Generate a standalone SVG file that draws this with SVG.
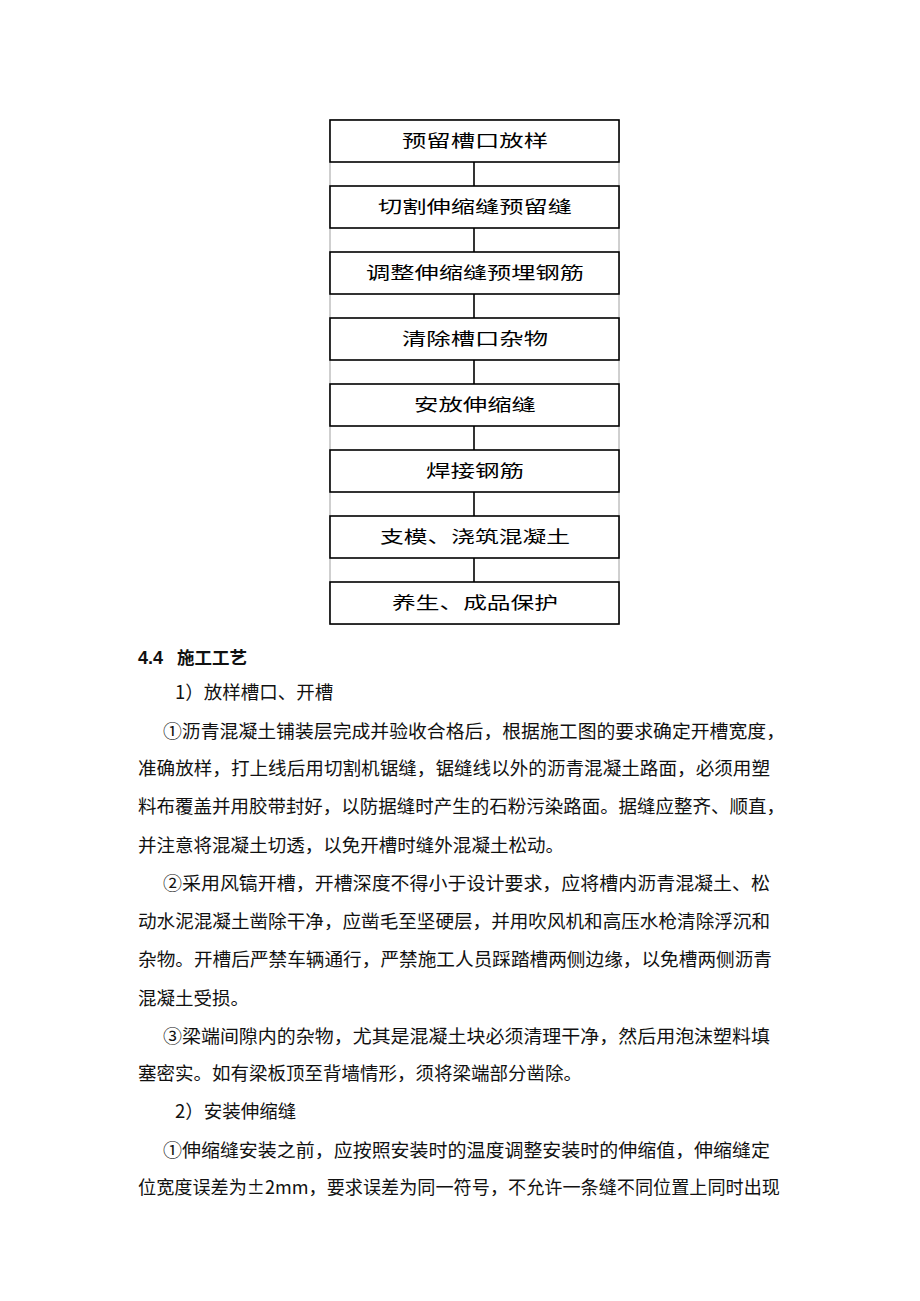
<svg xmlns="http://www.w3.org/2000/svg" width="920" height="1301" viewBox="0 0 920 1301">
<style>
.frame{fill:none;stroke:#a0a0a0;stroke-width:1}
.box{fill:#fff;stroke:#000;stroke-width:1.6}
.conn{stroke:#000;stroke-width:1.6}
.lbl{font-family:"Noto Sans CJK SC","Liberation Sans",sans-serif;font-size:17px;fill:#000;text-anchor:middle}
.body{font-family:"Noto Sans CJK SC","Liberation Sans",sans-serif;font-size:18.5px;fill:#111}
.head{font-family:"Liberation Sans","Noto Sans CJK SC",sans-serif;font-size:18px;font-weight:bold;fill:#111}
</style>
<rect width="920" height="1301" fill="#fff"/>
<rect class="frame" x="330" y="120" width="289" height="504"/>
<g id="connectors">
<line class="conn" x1="474" y1="162" x2="474" y2="186"/>
<line class="conn" x1="474" y1="228" x2="474" y2="252"/>
<line class="conn" x1="474" y1="294" x2="474" y2="318"/>
<line class="conn" x1="474" y1="360" x2="474" y2="384"/>
<line class="conn" x1="474" y1="426" x2="474" y2="450"/>
<line class="conn" x1="474" y1="492" x2="474" y2="516"/>
<line class="conn" x1="474" y1="558" x2="474" y2="582"/>
</g>
<g id="n1"><rect class="box" x="330" y="120" width="289" height="42"/><text class="lbl" x="475" y="147" textLength="146" lengthAdjust="spacingAndGlyphs">预留槽口放样</text></g>
<g id="n2"><rect class="box" x="330" y="186" width="289" height="42"/><text class="lbl" x="475" y="213" textLength="194" lengthAdjust="spacingAndGlyphs">切割伸缩缝预留缝</text></g>
<g id="n3"><rect class="box" x="330" y="252" width="289" height="42"/><text class="lbl" x="475" y="279" textLength="218" lengthAdjust="spacingAndGlyphs">调整伸缩缝预埋钢筋</text></g>
<g id="n4"><rect class="box" x="330" y="318" width="289" height="42"/><text class="lbl" x="475" y="345" textLength="146" lengthAdjust="spacingAndGlyphs">清除槽口杂物</text></g>
<g id="n5"><rect class="box" x="330" y="384" width="289" height="42"/><text class="lbl" x="475" y="411" textLength="122" lengthAdjust="spacingAndGlyphs">安放伸缩缝</text></g>
<g id="n6"><rect class="box" x="330" y="450" width="289" height="42"/><text class="lbl" x="475" y="477" textLength="98" lengthAdjust="spacingAndGlyphs">焊接钢筋</text></g>
<g id="n7"><rect class="box" x="330" y="516" width="289" height="42"/><text class="lbl" x="475" y="543" textLength="190" lengthAdjust="spacingAndGlyphs">支模、浇筑混凝土</text></g>
<g id="n8"><rect class="box" x="330" y="582" width="289" height="42"/><text class="lbl" x="475" y="609" textLength="166" lengthAdjust="spacingAndGlyphs">养生、成品保护</text></g>
<g id="body">
<text class="head" x="138" y="664">4.4<tspan x="177" font-family="Noto Sans CJK SC, sans-serif" font-size="17.5">施工工艺</tspan></text>
<text class="body" x="175" y="699">1）放样槽口、开槽</text>
<text class="body" x="163" y="738" textLength="622" lengthAdjust="spacingAndGlyphs">①沥青混凝土铺装层完成并验收合格后，根据施工图的要求确定开槽宽度，</text>
<text class="body" x="138" y="775" textLength="632" lengthAdjust="spacingAndGlyphs">准确放样，打上线后用切割机锯缝，锯缝线以外的沥青混凝土路面，必须用塑</text>
<text class="body" x="138" y="813" textLength="647" lengthAdjust="spacingAndGlyphs">料布覆盖并用胶带封好，以防据缝时产生的石粉污染路面。据缝应整齐、顺直，</text>
<text class="body" x="138" y="852" textLength="426" lengthAdjust="spacingAndGlyphs">并注意将混凝土切透，以免开槽时缝外混凝土松动。</text>
<text class="body" x="163" y="890" textLength="607" lengthAdjust="spacingAndGlyphs">②采用风镐开槽，开槽深度不得小于设计要求，应将槽内沥青混凝土、松</text>
<text class="body" x="138" y="928" textLength="632" lengthAdjust="spacingAndGlyphs">动水泥混凝土凿除干净，应凿毛至坚硬层，并用吹风机和高压水枪清除浮沉和</text>
<text class="body" x="138" y="966" textLength="634" lengthAdjust="spacingAndGlyphs">杂物。开槽后严禁车辆通行，严禁施工人员踩踏槽两侧边缘，以免槽两侧沥青</text>
<text class="body" x="138" y="1005" textLength="111" lengthAdjust="spacingAndGlyphs">混凝土受损。</text>
<text class="body" x="163" y="1043" textLength="607" lengthAdjust="spacingAndGlyphs">③梁端间隙内的杂物，尤其是混凝土块必须清理干净，然后用泡沫塑料填</text>
<text class="body" x="138" y="1080" textLength="444" lengthAdjust="spacingAndGlyphs">塞密实。如有梁板顶至背墙情形，须将梁端部分凿除。</text>
<text class="body" x="175" y="1118">2）安装伸缩缝</text>
<text class="body" x="163" y="1157" textLength="607" lengthAdjust="spacingAndGlyphs">①伸缩缝安装之前，应按照安装时的温度调整安装时的伸缩值，伸缩缝定</text>
<text class="body" x="138" y="1194" textLength="642" lengthAdjust="spacingAndGlyphs">位宽度误差为±2mm，要求误差为同一符号，不允许一条缝不同位置上同时出现</text>
</g>
</svg>
